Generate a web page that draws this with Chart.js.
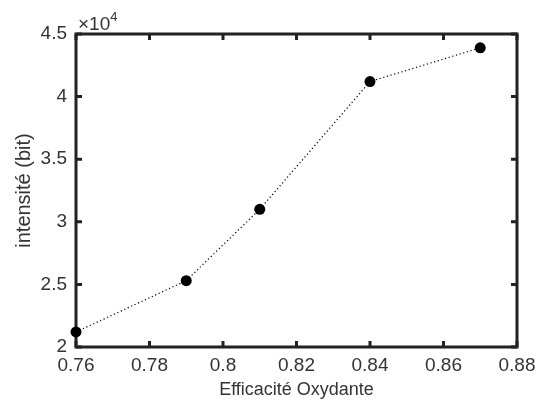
<!DOCTYPE html>
<html>
  <head>
    <meta charset="utf-8" />
    <title>Intensité</title>
    <script src="https://cdn.jsdelivr.net/npm/chart.js"></script>
    <style>
      html, body { margin: 0; padding: 0; background: #fff; }
      .canvas-container { width: 536px; height: 405px; }
    </style>
  </head>
  <body>
    <div class="canvas-container">
      <canvas id="intensityChart"></canvas>
    </div>
    <script>
      // données
      const efficacite = [0.76, 0.79, 0.81, 0.84, 0.87];
      const intensite = [21200, 25300, 31000, 41200, 43900];
      const xTicks = [0.76, 0.78, 0.8, 0.82, 0.84, 0.86, 0.88];
      const yTicks = [20000, 25000, 30000, 35000, 40000, 45000];

      const axisColor = '#222';
      const textColor = '#333';

      // cadre + graduations vers l'intérieur (style MATLAB)
      const boxPlugin = {
        id: 'boxPlugin',
        beforeDatasetsDraw(chart) {
          const ctx = chart.ctx;
          const a = chart.chartArea;
          const xs = chart.scales.x;
          const ys = chart.scales.y;
          ctx.save();
          ctx.strokeStyle = axisColor;
          ctx.lineWidth = 3;
          ctx.beginPath();
          xTicks.forEach(function (v) {
            const px = xs.getPixelForValue(v);
            ctx.moveTo(px, a.bottom); ctx.lineTo(px, a.bottom - 6);
            ctx.moveTo(px, a.top); ctx.lineTo(px, a.top + 6);
          });
          yTicks.forEach(function (v) {
            const py = ys.getPixelForValue(v);
            ctx.moveTo(a.left, py); ctx.lineTo(a.left + 6, py);
            ctx.moveTo(a.right, py); ctx.lineTo(a.right - 6, py);
          });
          ctx.stroke();
          ctx.strokeRect(a.left, a.top, a.right - a.left, a.bottom - a.top);
          // multiplicateur ×10^4
          ctx.fillStyle = textColor;
          ctx.textBaseline = 'alphabetic';
          ctx.textAlign = 'left';
          ctx.font = '19px "Liberation Sans", Arial, sans-serif';
          ctx.fillText('×10', a.left + 2, a.top - 4);
          const w = ctx.measureText('×10').width;
          ctx.font = '13px "Liberation Sans", Arial, sans-serif';
          ctx.fillText('4', a.left + 2 + w, a.top - 13);
          ctx.restore();
        }
      };

      const ctx = document.getElementById('intensityChart').getContext('2d');
      new Chart(ctx, {
        type: 'scatter',
        data: {
          datasets: [{
            label: 'intensité',
            data: efficacite.map(function (x, i) { return { x: x, y: intensite[i] }; }),
            showLine: true,
            borderColor: '#000',
            borderWidth: 1.2,
            borderDash: [1.2, 2.6],
            pointRadius: 5.5,
            pointBackgroundColor: '#000',
            pointBorderColor: '#000',
            pointBorderWidth: 0,
            clip: false
          }]
        },
        options: {
          responsive: true,
          maintainAspectRatio: false,
          animation: false,
          layout: { padding: { top: 34, right: 19, left: 0, bottom: 0 } },
          plugins: {
            legend: { display: false },
            tooltip: { enabled: false }
          },
          scales: {
            x: {
              type: 'linear',
              min: 0.76,
              max: 0.88,
              afterBuildTicks(scale) { scale.ticks = xTicks.map(function (v) { return { value: v }; }); },
              afterFit(scale) {
                scale.height = 58;
                scale.paddingLeft = 0;
                scale.paddingRight = 0;
              },
              grid: { display: false, drawTicks: false },
              border: { display: false },
              ticks: {
                padding: 7,
                color: textColor,
                font: { family: '"Liberation Sans", Arial, sans-serif', size: 19 },
                maxRotation: 0,
                callback: function (v) { return String(Math.round(v * 100) / 100); }
              },
              title: {
                display: true,
                text: 'Efficacité Oxydante',
                color: textColor,
                font: { family: '"Liberation Sans", Arial, sans-serif', size: 18 },
                padding: { top: 0, bottom: 4 }
              }
            },
            y: {
              type: 'linear',
              min: 20000,
              max: 45000,
              afterBuildTicks(scale) { scale.ticks = yTicks.map(function (v) { return { value: v }; }); },
              afterFit(scale) {
                scale.width = 76;
                scale.paddingTop = 0;
                scale.paddingBottom = 0;
              },
              grid: { display: false, drawTicks: false },
              border: { display: false },
              ticks: {
                padding: 9,
                color: textColor,
                font: { family: '"Liberation Sans", Arial, sans-serif', size: 19 },
                callback: function (v) { return String(v / 10000); }
              },
              title: {
                display: true,
                text: 'intensité (bit)',
                color: textColor,
                font: { family: '"Liberation Sans", Arial, sans-serif', size: 20 },
                padding: { top: 12, bottom: 0 }
              }
            }
          }
        },
        plugins: [boxPlugin]
      });
    </script>
  </body>
</html>
